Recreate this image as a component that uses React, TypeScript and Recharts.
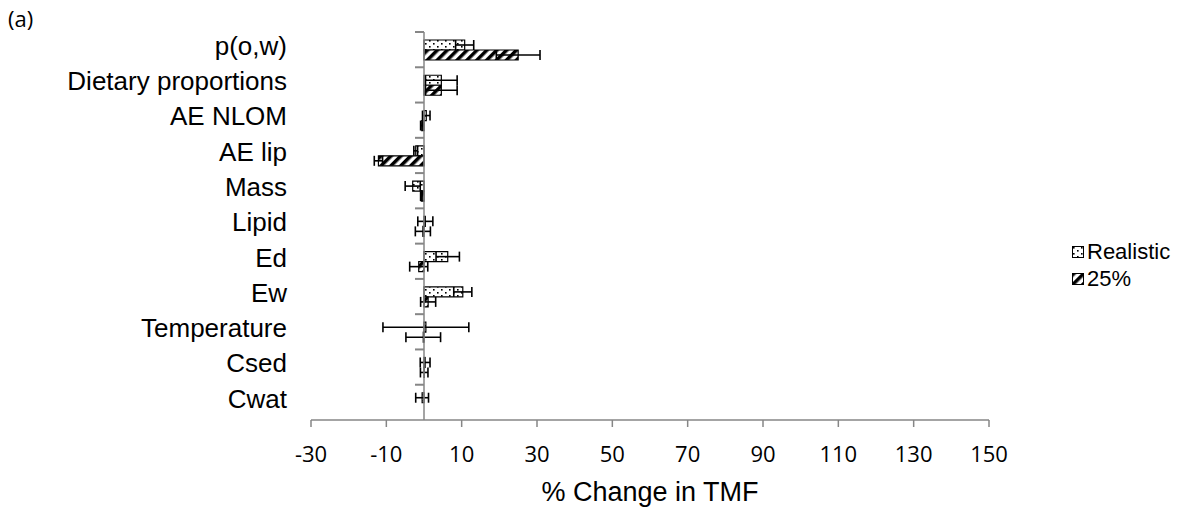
import React from "react";
import {
  BarChart,
  Bar,
  XAxis,
  YAxis,
  ErrorBar,
  ReferenceLine,
  Label,
} from "recharts";

const CATEGORIES = [
  "p(o,w)",
  "Dietary proportions",
  "AE NLOM",
  "AE lip",
  "Mass",
  "Lipid",
  "Ed",
  "Ew",
  "Temperature",
  "Csed",
  "Cwat",
];

const REALISTIC = [10.8, 4.6, 0.6, -2.2, -3, 0.35, 6.3, 10.3, 0.5, 0.3, -0.5];
const REALISTIC_ERR = [2.4, 4.2, 1.0, 0.5, 2.0, 2.0, 3.1, 2.4, 11.4, 1.3, 1.7];
const PCT25 = [25, 4.6, -0.6, -12.1, -0.7, -0.3, -1.4, 1.1, -0.2, 0.05, 0];
const PCT25_ERR = [5.8, 4.2, 0.3, 1.1, 0.2, 2.0, 2.4, 2.0, 4.6, 1.0, 0.9];

const X_MIN = -30;
const X_MAX = 150;
const X_TICKS = [-30, -10, 10, 30, 50, 70, 90, 110, 130, 150];

// chart geometry
const W = 1181;
const H = 515;
const MARGIN = { top: 32, right: 192, bottom: 0, left: 0 };
const Y_AXIS_W = 311;
const X_AXIS_H = 95;
const PLOT_LEFT = MARGIN.left + Y_AXIS_W;
const PLOT_W = W - MARGIN.right - PLOT_LEFT;
const PLOT_H = H - MARGIN.top - X_AXIS_H;
const BAND = PLOT_H / CATEGORIES.length;
// the category axis crosses the value axis at 0
const ZERO_X = PLOT_LEFT + ((0 - X_MIN) / (X_MAX - X_MIN)) * PLOT_W;

const AXIS_GRAY = "#868686";
const ARIAL = "'Liberation Sans', Arial, sans-serif";
const CALIBRI = "'Open Sans', 'Noto Sans', sans-serif";

const data = CATEGORIES.map((name, i) => ({
  name,
  realistic: REALISTIC[i],
  realisticErr: REALISTIC_ERR[i],
  pct25: PCT25[i],
  pct25Err: PCT25_ERR[i],
}));

const styles: Record<string, React.CSSProperties> = {
  page: {
    position: "absolute",
    left: 0,
    top: 0,
    width: W,
    height: H,
    background: "#fff",
  },
  panel: {
    position: "absolute",
    left: 8,
    top: 3,
    fontFamily: CALIBRI,
    fontSize: 22,
    color: "#000",
  },
  overlay: {
    position: "absolute",
    left: 0,
    top: 0,
    zIndex: 2,
    pointerEvents: "none",
  },
  legend: {
    position: "absolute",
    left: 1072,
    top: 238,
    fontFamily: ARIAL,
    fontSize: 22,
    color: "#000",
  },
  legendRow: {
    display: "flex",
    alignItems: "center",
    height: 27,
    gap: 3,
  },
};

function CategoryTick(props: any) {
  const { x, y, payload } = props;
  return (
    <text
      x={x}
      y={y - 4}
      dy="0.355em"
      textAnchor="end"
      fill="#000"
      fontSize={26}
      fontFamily={ARIAL}
    >
      {payload.value}
    </text>
  );
}

function Swatch({ fill }: { fill: string }) {
  return (
    <svg width={12} height={12}>
      <rect x={0.5} y={0.5} width={11} height={11} fill={fill} stroke="#000" strokeWidth={1} />
    </svg>
  );
}

export default function App() {
  return (
    <div style={styles.page}>
      <div style={styles.panel}>(a)</div>
      <BarChart
        layout="vertical"
        width={W}
        height={H}
        data={data}
        margin={MARGIN}
        barSize={10}
        barGap={0}
      >
        <defs>
          <pattern id="dots" width="8" height="6" patternUnits="userSpaceOnUse">
            <rect width="8" height="6" fill="#fff" />
            <rect x="1" y="1" width="1.6" height="1.6" fill="#000" />
            <rect x="5" y="4" width="1.6" height="1.6" fill="#000" />
          </pattern>
          <pattern
            id="hatch"
            width="7"
            height="7"
            patternUnits="userSpaceOnUse"
            patternTransform="rotate(45)"
          >
            <rect width="7" height="7" fill="#fff" />
            <rect width="3.5" height="7" fill="#000" />
          </pattern>
        </defs>
        <XAxis
          type="number"
          domain={[X_MIN, X_MAX]}
          ticks={X_TICKS}
          interval={0}
          height={X_AXIS_H}
          stroke={AXIS_GRAY}
          strokeWidth={1.5}
          tickSize={7}
          tickMargin={19}
          tick={{ fill: "#000", fontSize: 22, fontFamily: CALIBRI }}
        >
          <Label
            value="% Change in TMF"
            position="insideBottom"
            offset={14}
            style={{ fill: "#000", fontSize: 27, fontFamily: ARIAL }}
          />
        </XAxis>
        <YAxis
          type="category"
          dataKey="name"
          width={Y_AXIS_W}
          axisLine={false}
          tickLine={false}
          tickSize={0}
          tickMargin={24}
          interval={0}
          tick={<CategoryTick />}
        />
        <Bar
          dataKey="realistic"
          fill="url(#dots)"
          stroke="#000"
          strokeWidth={1.2}
          isAnimationActive={false}
        >
          <ErrorBar dataKey="realisticErr" direction="x" width={5} stroke="#000" strokeWidth={1.6} />
        </Bar>
        <Bar
          dataKey="pct25"
          fill="url(#hatch)"
          stroke="#000"
          strokeWidth={1.2}
          isAnimationActive={false}
        >
          <ErrorBar dataKey="pct25Err" direction="x" width={5} stroke="#000" strokeWidth={1.6} />
        </Bar>
        <ReferenceLine x={0} stroke={AXIS_GRAY} strokeWidth={1.5} />
      </BarChart>
      {/* tick marks of the category axis, which sits on x = 0 */}
      <svg width={W} height={H} style={styles.overlay}>
        {CATEGORIES.map((c, i) => (
          <rect
            key={c}
            x={ZERO_X - 9}
            y={MARGIN.top + i * BAND - 1}
            width={9}
            height={2}
            fill={AXIS_GRAY}
          />
        ))}
      </svg>
      <div style={styles.legend}>
        <div style={styles.legendRow}>
          <Swatch fill="url(#dots)" />
          <span>Realistic</span>
        </div>
        <div style={styles.legendRow}>
          <Swatch fill="url(#hatch)" />
          <span>25%</span>
        </div>
      </div>
    </div>
  );
}
